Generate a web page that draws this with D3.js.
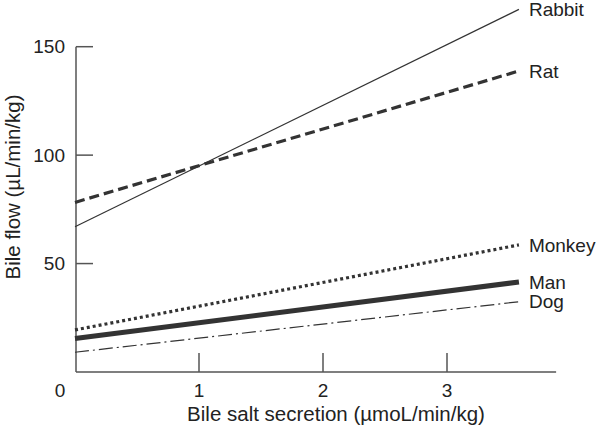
<!DOCTYPE html>
<html>
<head>
<meta charset="utf-8">
<script src="https://cdn.jsdelivr.net/npm/d3@7"></script>
<style>
  body { margin: 0; background: #fff; }
  text { font-family: "Liberation Sans", Arial, sans-serif; fill: #222; }
</style>
</head>
<body>
<svg id="chart"></svg>
<script>
// x values where each line starts and ends (bile salt secretion)
const xStart = 0;
const xEnd = 3.58;

const species = ['Rabbit', 'Rat', 'Monkey', 'Man', 'Dog'];
const flowAtStart = [67.0, 78.2, 19.4, 15.4, 9.1];
const flowAtEnd = [167.2, 138.8, 58.6, 41.5, 32.4];

const xTicks = [1, 2, 3];
const yTicks = [50, 100, 150];

// line styles per species
const styles = {
  Rabbit: { width: 1.2, dash: null },
  Rat: { width: 3.2, dash: '10,5' },
  Monkey: { width: 3.2, dash: '3,3' },
  Man: { width: 5, dash: null },
  Dog: { width: 1.2, dash: '14,4,2,4' }
};

const width = 600, height = 428;

const svg = d3.select('#chart')
    .attr('width', width)
    .attr('height', height);

const xScale = d3.scaleLinear()
    .domain([0, 1])
    .range([75, 199]);

const yScale = d3.scaleLinear()
    .domain([0, 150])
    .range([372, 46.7]);

const axisColor = '#555';

// axis lines
svg.append('line')
    .attr('x1', 76).attr('x2', 76)
    .attr('y1', yScale(150)).attr('y2', yScale(0))
    .attr('stroke', axisColor).attr('stroke-width', 1.5);

svg.append('line')
    .attr('x1', 76).attr('x2', xScale(3.88))
    .attr('y1', yScale(0)).attr('y2', yScale(0))
    .attr('stroke', axisColor).attr('stroke-width', 1.5);

// y ticks point inward
svg.selectAll('.ytick')
  .data(yTicks)
  .join('line')
    .attr('class', 'ytick')
    .attr('x1', 76).attr('x2', 93)
    .attr('y1', d => yScale(d)).attr('y2', d => yScale(d))
    .attr('stroke', axisColor).attr('stroke-width', 1.5);

svg.selectAll('.ylabel')
  .data(yTicks)
  .join('text')
    .attr('class', 'ylabel')
    .attr('x', 65)
    .attr('y', d => yScale(d))
    .attr('dy', '0.35em')
    .attr('text-anchor', 'end')
    .style('font-size', '19px')
    .text(d => d);

// x ticks point up
svg.selectAll('.xtick')
  .data(xTicks)
  .join('line')
    .attr('class', 'xtick')
    .attr('x1', d => xScale(d)).attr('x2', d => xScale(d))
    .attr('y1', yScale(0) - 19).attr('y2', yScale(0))
    .attr('stroke', axisColor).attr('stroke-width', 1.5);

svg.selectAll('.xlabel')
  .data(xTicks)
  .join('text')
    .attr('class', 'xlabel')
    .attr('x', d => xScale(d))
    .attr('y', 397)
    .attr('text-anchor', 'middle')
    .style('font-size', '19px')
    .text(d => d);

// shared origin label
svg.append('text')
    .attr('x', 60)
    .attr('y', 397)
    .attr('text-anchor', 'middle')
    .style('font-size', '19px')
    .text('0');

// axis titles
svg.append('text')
    .attr('x', 336)
    .attr('y', 421)
    .attr('text-anchor', 'middle')
    .style('font-size', '20.5px')
    .text('Bile salt secretion (\u00b5moL/min/kg)');

svg.append('text')
    .attr('transform', 'translate(20,187) rotate(-90)')
    .attr('text-anchor', 'middle')
    .style('font-size', '20.5px')
    .text('Bile flow (\u00b5L/min/kg)');

// species lines
const lineData = species.map((s, i) => ({
  name: s,
  pts: [[xStart, flowAtStart[i]], [xEnd, flowAtEnd[i]]]
}));

const line = d3.line()
    .x(d => xScale(d[0]))
    .y(d => yScale(d[1]));

svg.selectAll('.species-line')
  .data(lineData)
  .join('path')
    .attr('class', 'species-line')
    .attr('d', d => line(d.pts))
    .attr('fill', 'none')
    .attr('stroke', '#333')
    .attr('stroke-width', d => styles[d.name].width)
    .attr('stroke-dasharray', d => styles[d.name].dash);

svg.selectAll('.species-label')
  .data(lineData)
  .join('text')
    .attr('class', 'species-label')
    .attr('x', xScale(xEnd) + 10)
    .attr('y', d => yScale(d.pts[1][1]))
    .attr('dy', '0.35em')
    .style('font-size', '19px')
    .text(d => d.name);
</script>
</body>
</html>
